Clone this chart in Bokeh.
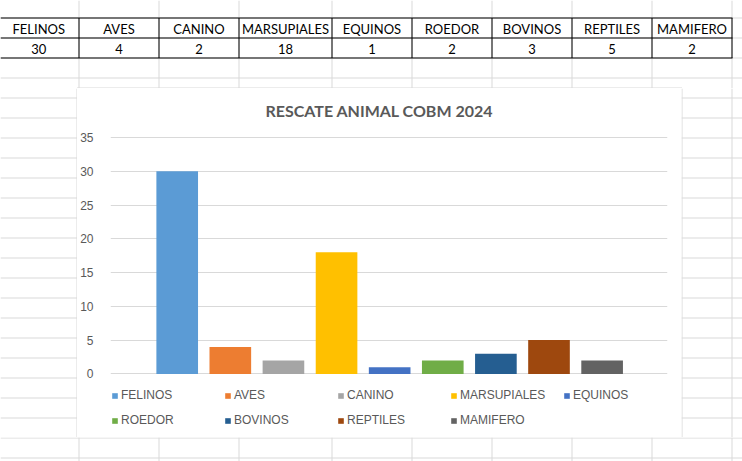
from bokeh.plotting import figure
from bokeh.models import Range1d, FixedTicker, Legend, LegendItem, ColumnDataSource, Label
from bokeh.layouts import column, row
from bokeh.embed import file_html
from bokeh.resources import INLINE
from bokeh.core.properties import value

# ---- data ----
categories = ["FELINOS", "AVES", "CANINO", "MARSUPIALES", "EQUINOS",
              "ROEDOR", "BOVINOS", "REPTILES", "MAMIFERO"]
counts = [30, 4, 2, 18, 1, 2, 3, 5, 2]
colors = ["#5B9BD5", "#ED7D31", "#A5A5A5", "#FFC000", "#4472C4",
          "#70AD47", "#255E91", "#9E480E", "#636363"]
y_ticks = [0, 5, 10, 15, 20, 25, 30, 35]
title_text = "RESCATE ANIMAL COBM 2024"

# ---- sheet layout (pixels) ----
col_lines = [78.5, 158.5, 238.5, 331.5, 411.5, 491.5, 571.5, 651.5, 731.5]
col_left = [-2, 78.5, 158.5, 238.5, 331.5, 411.5, 491.5, 571.5, 651.5]
row_lines = [17.5 + 20 * k for k in range(23)]
CELL = "#d9d9d9"
CHART_BORDER = "#d9d9d9"
TXT = "#595959"

W, H = 742, 461
CX0, CX1, CY0, CY1 = 77, 681, 88, 437  # chart figure box


def strip(x0, x1, y0, y1):
    p = figure(width=x1 - x0, height=y1 - y0, x_range=Range1d(x0, x1),
               y_range=Range1d(y1, y0), x_axis_type=None, y_axis_type=None,
               toolbar_location=None, output_backend="svg", min_border=0,
               outline_line_color=None, background_fill_color="white",
               border_fill_color="white")
    xs = [c for c in col_lines if x0 <= c <= x1]
    if xs:
        p.segment(x0=xs, y0=[y0] * len(xs), x1=xs, y1=[y1] * len(xs),
                  line_color=CELL, line_width=1)
    ys = [r for r in row_lines if y0 <= r <= y1]
    if ys:
        p.segment(x0=[x0] * len(ys), y0=ys, x1=[x1] * len(ys), y1=ys,
                  line_color=CELL, line_width=1)
    return p


# top strip with the data table
top = strip(0, W, 0, CY0)
top.segment(x0=[0, 0, 0], y0=[17.5, 37.5, 57.5], x1=[732] * 3, y1=[17.5, 37.5, 57.5],
            line_color="black", line_width=1)
top.segment(x0=col_lines, y0=[17.5] * len(col_lines), x1=col_lines, y1=[57.5] * len(col_lines),
            line_color="black", line_width=1)
centers = [(a + b) / 2 for a, b in zip(col_left, col_lines)]
top.text(x=centers, y=[28.0] * len(categories), text=categories,
         text_align="center", text_baseline="middle",
         text_font=value("Lato"), text_font_size="13px", text_color="black")
top.text(x=centers, y=[48.0] * len(counts), text=[str(v) for v in counts],
         text_align="center", text_baseline="middle",
         text_font=value("Lato"), text_font_size="13px", text_color="black")
top.segment(x0=[CX0 - 0.5], y0=[CY0 - 0.5], x1=[CX1 + 0.5], y1=[CY0 - 0.5],
            line_color=CHART_BORDER, line_width=1)

left = strip(0, CX0, CY0, CY1)
left.segment(x0=[CX0 - 0.5], y0=[CY0], x1=[CX0 - 0.5], y1=[CY1],
             line_color=CHART_BORDER, line_width=1)
right = strip(CX1, W, CY0, CY1)
right.segment(x0=[CX1 + 0.5], y0=[CY0], x1=[CX1 + 0.5], y1=[CY1],
              line_color=CHART_BORDER, line_width=1)
bottom = strip(0, W, CY1, H)

# ---- the chart ----
ch = figure(width=CX1 - CX0, height=CY1 - CY0,
            x_range=Range1d(-1.256, 9.231), y_range=Range1d(-9.416, 42.25),
            x_axis_location=None, toolbar_location=None, output_backend="svg",
            min_border_left=32, min_border_right=14, min_border_top=0,
            min_border_bottom=0, outline_line_color=None,
            background_fill_color="white", border_fill_color="white")

ch.add_layout(Label(x=269, y=327, x_units="screen", y_units="screen",
                    text=title_text, text_align="center", text_baseline="middle",
                    text_font="Lato", text_font_size="16px", text_font_style="bold",
                    text_color=TXT))

ch.yaxis.ticker = FixedTicker(ticks=y_ticks)
ch.ygrid.ticker = FixedTicker(ticks=y_ticks)
ch.yaxis.axis_line_color = None
ch.yaxis.major_tick_line_color = None
ch.yaxis.minor_tick_line_color = None
ch.yaxis.major_label_standoff = 11
ch.yaxis.major_label_text_font = "Liberation Sans"
ch.yaxis.major_label_text_font_size = "12px"
ch.yaxis.major_label_text_color = TXT
ch.ygrid.grid_line_color = "#d9d9d9"
ch.xgrid.visible = False

src = ColumnDataSource(dict(x=list(range(len(categories))), top=counts,
                            color=colors, name=categories))
r = ch.vbar(x="x", top="top", bottom=0, width=0.784, fill_color="color",
            line_color=None, source=src)


def make_legend(idx, loc):
    return Legend(items=[LegendItem(label=categories[i], renderers=[r], index=i) for i in idx],
                  orientation="horizontal", location=loc, border_line_color=None,
                  background_fill_alpha=0, padding=0, margin=0, spacing=0,
                  glyph_width=7, glyph_height=7, label_standoff=3, label_width=103,
                  label_height=12, label_text_font="Liberation Sans",
                  label_text_font_size="12px", label_text_color=TXT)


ch.add_layout(make_legend(range(0, 5), (1, 35)))
ch.add_layout(make_legend(range(5, 9), (1, 10)))

layout = column(top, row(left, ch, right, spacing=0), bottom, spacing=0)
open("out.html", "w").write(file_html(layout, INLINE))
